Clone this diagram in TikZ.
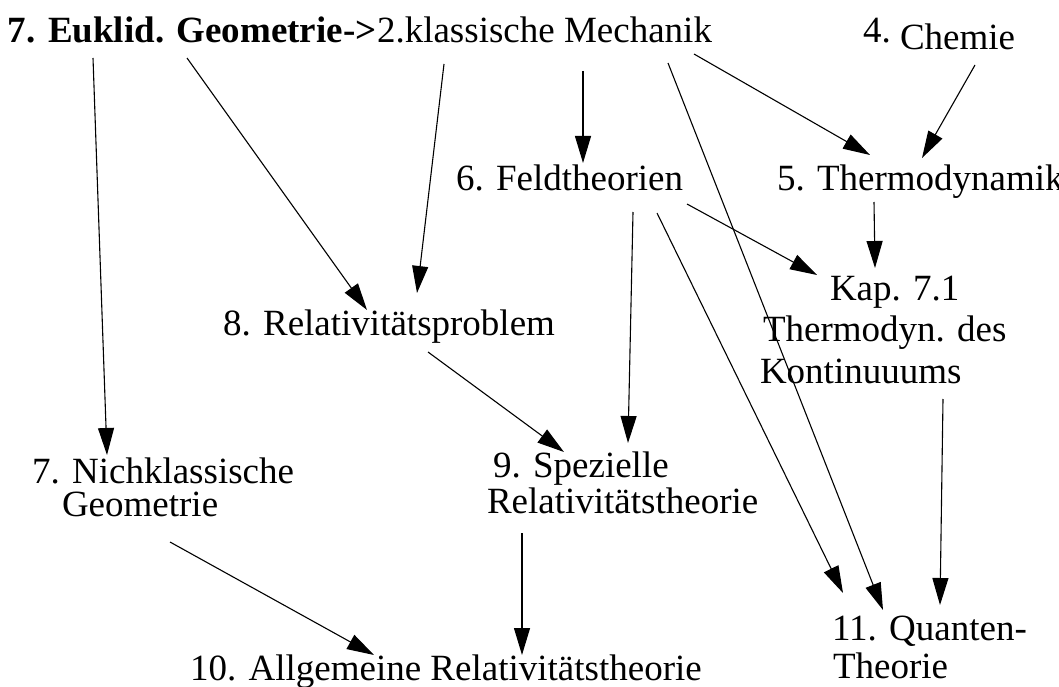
\documentclass[tikz,border=0pt]{standalone}
\usepackage{fontspec}
\setmainfont{Liberation Serif}
\usetikzlibrary{arrows.meta}

% stacked label lines; the box baseline is that of the first line
\newcommand{\stackedlines}[2]{\vtop{\baselineskip=#1\relax #2}}

\begin{document}
\begin{tikzpicture}[x=1pt,y=-1pt,
  lbl/.style={anchor=base west,inner sep=0pt,outer sep=0pt,font=\fontsize{37}{40}\selectfont},
  dep/.style={line width=1.1pt,-{Triangle[length=27pt,width=16pt]}}]
\useasboundingbox (0,0) rectangle (1059,687);

% topics
\node[lbl,font=\fontsize{37}{40}\selectfont\bfseries] (euklid) at (8,43) {7. Euklid. Geometrie-{}>};
\node[lbl] (mech) at (377,43) {2.klassische Mechanik};
\node[lbl] (chemie) at (863,50) {\raisebox{7pt}{4.} Chemie};
\node[lbl] (thermo) at (777,190) {5. Thermodynamik};
\node[lbl] (feld) at (456,190) {6. Feldtheorien};
\node[lbl] (kap) at (760,300) {\stackedlines{41.5pt}{%
  \hbox{\hspace*{70pt}Kap. 7.1}\hbox{\hspace*{3pt}Thermodyn. des}\hbox{Kontinuuums}}};
\node[lbl] (rel) at (223,335) {8. Relativitätsproblem};
\node[lbl] (nich) at (32,483) {\stackedlines{33pt}{%
  \hbox{7. Nichklassische}\hbox{\hspace*{30pt}Geometrie}}};
\node[lbl] (spez) at (487,477) {\stackedlines{36pt}{%
  \hbox{\hspace*{6pt}9. Spezielle}\hbox{Relativitätstheorie}}};
\node[lbl] (allg) at (190,680) {10. Allgemeine Relativitätstheorie};
\node[lbl] (quant) at (832,640) {\stackedlines{38pt}{%
  \hbox{11. Quanten-}\hbox{\hspace*{1pt}Theorie}}};

% connector ends
\coordinate (euklid-a) at (93,58);
\coordinate (euklid-b) at (187,58);
\coordinate (mech-a) at (444,64);
\coordinate (mech-b) at (583,71);
\coordinate (mech-c) at (668,63);
\coordinate (mech-d) at (694,54);
\coordinate (chemie-a) at (975,65);
\coordinate (thermo-in) at (870,155);
\coordinate (thermo-in2) at (922,158);
\coordinate (thermo-out) at (874,202);
\coordinate (feld-in) at (583,163);
\coordinate (feld-a) at (687,204);
\coordinate (feld-b) at (633,212);
\coordinate (feld-c) at (657,213);
\coordinate (kap-in) at (875,268);
\coordinate (kap-in2) at (817,275);
\coordinate (kap-out) at (943,399);
\coordinate (rel-in) at (367,310);
\coordinate (rel-in2) at (417,293);
\coordinate (rel-out) at (428,352);
\coordinate (nich-in) at (107,455);
\coordinate (nich-out) at (170,542);
\coordinate (spez-in) at (564,452);
\coordinate (spez-in2) at (628,443);
\coordinate (spez-out) at (522,533);
\coordinate (allg-in) at (374,655);
\coordinate (allg-in2) at (522,655);
\coordinate (quant-in) at (843,593);
\coordinate (quant-in2) at (883,610);
\coordinate (quant-in3) at (940,605);

% dependencies
\draw[dep] (euklid-a) -- (nich-in);
\draw[dep] (euklid-b) -- (rel-in);
\draw[dep] (mech-a) -- (rel-in2);
\draw[dep] (mech-b) -- (feld-in);
\draw[dep] (mech-d) -- (thermo-in);
\draw[dep] (mech-c) -- (quant-in2);
\draw[dep] (chemie-a) -- (thermo-in2);
\draw[dep] (thermo-out) -- (kap-in);
\draw[dep] (feld-a) -- (kap-in2);
\draw[dep] (feld-b) -- (spez-in2);
\draw[dep] (feld-c) -- (quant-in);
\draw[dep] (rel-out) -- (spez-in);
\draw[dep] (kap-out) -- (quant-in3);
\draw[dep] (nich-out) -- (allg-in);
\draw[dep] (spez-out) -- (allg-in2);
\end{tikzpicture}
\end{document}
